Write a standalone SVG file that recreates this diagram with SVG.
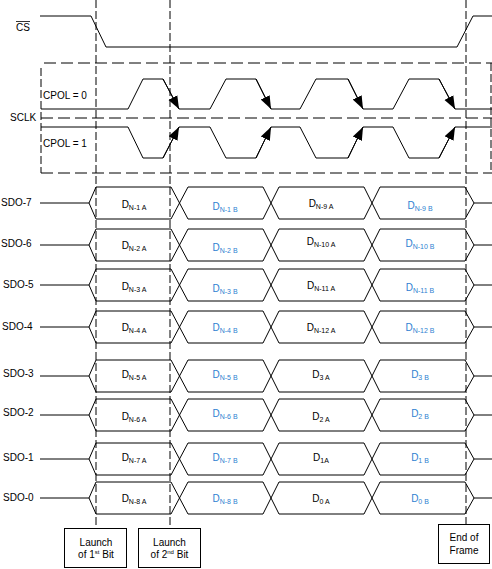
<svg xmlns="http://www.w3.org/2000/svg" xmlns:xlink="http://www.w3.org/1999/xlink" width="492" height="569" viewBox="0 0 492 569">
<style>
text{font-family:"Liberation Sans",Arial,sans-serif;font-size:10px;fill:#000}
.w{fill:none;stroke:#000;stroke-width:1}
.dash{fill:none;stroke:#000;stroke-width:1;stroke-dasharray:12,5}
.vdash{fill:none;stroke:#000;stroke-width:1;stroke-dasharray:8,3}
.box{fill:#fff;stroke:#000;stroke-width:1}
.d{text-anchor:middle;font-size:10px}
.b{fill:#2e7fd1}
.s{font-size:7px}
.c{text-anchor:middle}
.sup{font-size:6px}
</style>
<defs>
<marker id="ah" markerUnits="userSpaceOnUse" markerWidth="14" markerHeight="12" refX="13" refY="5" orient="auto" viewBox="0 0 14 10">
<path d="M0,0 L13,5 L0,10 Z" fill="#000"/>
</marker>
<path id="bus" class="w" d="M40,16 H89 L96,0 H171 L188,32 H263 L279,0 H364 L380,32 H465 L474,16 H492 M89,16 L96,32 H171 L188,0 H263 L279,32 H364 L380,0 H465 L474,16"/>
</defs>

<g id="cs">
<text x="16" y="31">CS</text>
<line x1="16" y1="21.5" x2="30" y2="21.5" stroke="#000" stroke-width="0.8"/>
<path class="w" d="M40,16 H91 L106,47 H457 L473,16 H492"/>
</g>

<g id="sclk">
<text x="10" y="121">SCLK</text>
<path class="dash" d="M44,63 H492 M41,118 H492 M41,173 H492"/>
<path class="vdash" d="M41,68 V173 M491,63 V173"/>
<text x="43" y="99">CPOL = 0</text>
<text x="43" y="147">CPOL = 1</text>
<path class="w" d="M41,109 H128 L143,79 H163 L179,109 H210 L226,79 H256 L271,109 H300 L316,79 H348 L363,109 H393 L409,79 H439 L455,109 H492"/>
<path class="w" d="M41,127 H128 L143,158 H163 L179,127 H210 L226,158 H256 L271,127 H300 L316,158 H348 L363,127 H393 L409,158 H439 L455,127 H492"/>
</g>

<g id="connectors">
<path class="w" marker-end="url(#ah)" d="M163,79 L179,109"/>
<path class="w" marker-end="url(#ah)" d="M256,79 L271,109"/>
<path class="w" marker-end="url(#ah)" d="M348,79 L363,109"/>
<path class="w" marker-end="url(#ah)" d="M439,79 L455,109"/>
<path class="w" marker-end="url(#ah)" d="M163,158 L179,127"/>
<path class="w" marker-end="url(#ah)" d="M256,158 L271,127"/>
<path class="w" marker-end="url(#ah)" d="M348,158 L363,127"/>
<path class="w" marker-end="url(#ah)" d="M439,158 L455,127"/>
<path class="vdash" d="M96,0 V528 M170,0 V528 M466,0 V524"/>
</g>

<g id="sdo7">
<use xlink:href="#bus" href="#bus" transform="translate(0,187)"/>
<text x="1" y="206">SDO-7</text>
<text class="d" x="134" y="208">D<tspan class="s" dy="1.5">N-1 A</tspan></text>
<text class="d b" x="225" y="210">D<tspan class="s" dy="1.5">N-1 B</tspan></text>
<text class="d" x="321" y="207">D<tspan class="s" dy="1.5">N-9 A</tspan></text>
<text class="d b" x="420" y="209">D<tspan class="s" dy="1.5">N-9 B</tspan></text>
</g>

<g id="sdo6">
<use xlink:href="#bus" href="#bus" transform="translate(0,229)"/>
<text x="1" y="247">SDO-6</text>
<text class="d" x="134" y="249">D<tspan class="s" dy="1.5">N-2 A</tspan></text>
<text class="d b" x="225" y="251">D<tspan class="s" dy="1.5">N-2 B</tspan></text>
<text class="d" x="321" y="245">D<tspan class="s" dy="1.5">N-10 A</tspan></text>
<text class="d b" x="420" y="247">D<tspan class="s" dy="1.5">N-10 B</tspan></text>
</g>

<g id="sdo5">
<use xlink:href="#bus" href="#bus" transform="translate(0,269)"/>
<text x="3" y="288">SDO-5</text>
<text class="d" x="134" y="290">D<tspan class="s" dy="1.5">N-3 A</tspan></text>
<text class="d b" x="225" y="292">D<tspan class="s" dy="1.5">N-3 B</tspan></text>
<text class="d" x="321" y="289">D<tspan class="s" dy="1.5">N-11 A</tspan></text>
<text class="d b" x="420" y="291">D<tspan class="s" dy="1.5">N-11 B</tspan></text>
</g>

<g id="sdo4">
<use xlink:href="#bus" href="#bus" transform="translate(0,311)"/>
<text x="2" y="330">SDO-4</text>
<text class="d" x="134" y="331">D<tspan class="s" dy="1.5">N-4 A</tspan></text>
<text class="d b" x="225" y="331">D<tspan class="s" dy="1.5">N-4 B</tspan></text>
<text class="d" x="321" y="331">D<tspan class="s" dy="1.5">N-12 A</tspan></text>
<text class="d b" x="420" y="331">D<tspan class="s" dy="1.5">N-12 B</tspan></text>
</g>

<g id="sdo3">
<use xlink:href="#bus" href="#bus" transform="translate(0,360)"/>
<text x="3" y="377">SDO-3</text>
<text class="d" x="134" y="378">D<tspan class="s" dy="1.5">N-5 A</tspan></text>
<text class="d b" x="225" y="378">D<tspan class="s" dy="1.5">N-5 B</tspan></text>
<text class="d" x="321" y="378">D<tspan class="s" dy="1.5">3 A</tspan></text>
<text class="d b" x="420" y="378">D<tspan class="s" dy="1.5">3 B</tspan></text>
</g>

<g id="sdo2">
<use xlink:href="#bus" href="#bus" transform="translate(0,399)"/>
<text x="3" y="416">SDO-2</text>
<text class="d" x="134" y="420">D<tspan class="s" dy="1.5">N-6 A</tspan></text>
<text class="d b" x="225" y="417">D<tspan class="s" dy="1.5">N-6 B</tspan></text>
<text class="d" x="321" y="420">D<tspan class="s" dy="1.5">2 A</tspan></text>
<text class="d b" x="420" y="417">D<tspan class="s" dy="1.5">2 B</tspan></text>
</g>

<g id="sdo1">
<use xlink:href="#bus" href="#bus" transform="translate(0,443)"/>
<text x="3" y="461">SDO-1</text>
<text class="d" x="134" y="461">D<tspan class="s" dy="1.5">N-7 A</tspan></text>
<text class="d b" x="225" y="461">D<tspan class="s" dy="1.5">N-7 B</tspan></text>
<text class="d" x="321" y="461">D<tspan class="s" dy="1.5">1A</tspan></text>
<text class="d b" x="420" y="461">D<tspan class="s" dy="1.5">1 B</tspan></text>
</g>

<g id="sdo0">
<use xlink:href="#bus" href="#bus" transform="translate(0,482)"/>
<text x="3" y="501">SDO-0</text>
<text class="d" x="134" y="502">D<tspan class="s" dy="1.5">N-8 A</tspan></text>
<text class="d b" x="225" y="502">D<tspan class="s" dy="1.5">N-8 B</tspan></text>
<text class="d" x="321" y="502">D<tspan class="s" dy="1.5">0 A</tspan></text>
<text class="d b" x="420" y="502">D<tspan class="s" dy="1.5">0 B</tspan></text>
</g>

<g id="launch1">
<rect class="box" x="64.5" y="528.5" width="62" height="39"/>
<text class="c" x="96" y="546">Launch</text>
<text class="c" x="96" y="558">of 1<tspan class="sup" dy="-4">st</tspan><tspan dy="4"> Bit</tspan></text>
</g>

<g id="launch2">
<rect class="box" x="138.5" y="528.5" width="62" height="39"/>
<text class="c" x="169.5" y="546">Launch</text>
<text class="c" x="169.5" y="558">of 2<tspan class="sup" dy="-4">nd</tspan><tspan dy="4"> Bit</tspan></text>
</g>

<g id="endframe">
<rect class="box" x="438.5" y="524.5" width="51" height="39"/>
<text class="c" x="464" y="541">End of</text>
<text class="c" x="464" y="554">Frame</text>
</g>
</svg>
